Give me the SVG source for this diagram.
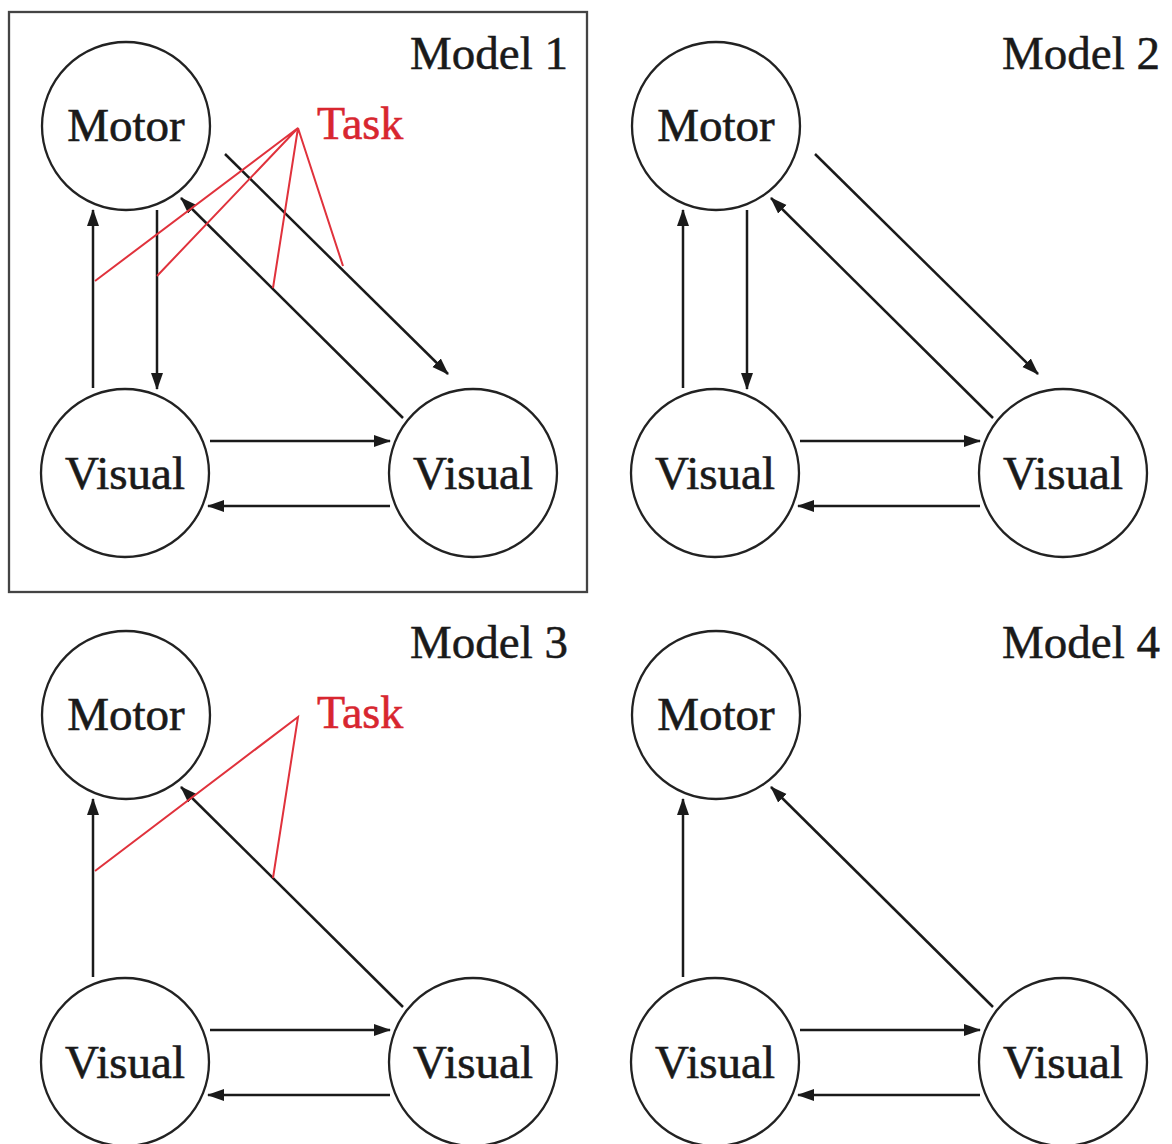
<svg xmlns="http://www.w3.org/2000/svg" width="1172" height="1144" viewBox="0 0 1172 1144">
<style>
.bg{fill:#ffffff}
.node circle{fill:#ffffff;stroke:#222;stroke-width:2.3}
.lbl{font-family:"Liberation Serif","Times New Roman",serif;font-size:47px;fill:#1a1a1a;stroke:#1a1a1a;stroke-width:0.6;text-anchor:middle}
.title{font-family:"Liberation Serif","Times New Roman",serif;font-size:47px;fill:#1a1a1a;stroke:#1a1a1a;stroke-width:0.5;text-anchor:end}
.task{font-family:"Liberation Serif","Times New Roman",serif;font-size:46px;fill:#d8262f;stroke:#d8262f;stroke-width:0.6}
.arr{stroke:#1a1a1a;stroke-width:2.5;fill:none;marker-end:url(#ah)}
.red{stroke:#e0323c;stroke-width:2;fill:none}
.box{fill:none;stroke:#444;stroke-width:2.3}
</style>
<defs>
<marker id="ah" markerUnits="userSpaceOnUse" markerWidth="18" markerHeight="14" viewBox="0 0 18 14" refX="16" refY="7" orient="auto">
<path d="M0,1 L17,7 L0,13 z" fill="#1a1a1a"/>
</marker>
</defs>
<rect class="bg" x="0" y="0" width="1172" height="1144"/>

<!-- Model 1 -->
<g id="model1">
<rect class="box" x="9" y="12" width="578" height="580"/>
<text class="title" x="568" y="69">Model 1</text>
<g id="m1-connectors">
<line class="arr" x1="93" y1="388" x2="93" y2="210"/>
<line class="arr" x1="157" y1="210" x2="157" y2="389"/>
<line class="arr" x1="225" y1="154" x2="448" y2="374"/>
<line class="arr" x1="403" y1="418" x2="181" y2="198"/>
<line class="arr" x1="210" y1="441" x2="390" y2="441"/>
<line class="arr" x1="390" y1="506" x2="208" y2="506"/>
<polyline class="red" points="95,281 298,128 157,276"/>
<polyline class="red" points="273,288 298,128 343,266"/>
</g>
<g id="m1-motor" class="node"><circle cx="126" cy="126" r="84"/><text class="lbl" x="126" y="141">Motor</text></g>
<g id="m1-visual-left" class="node"><circle cx="125" cy="473" r="84"/><text class="lbl" x="125" y="489">Visual</text></g>
<g id="m1-visual-right" class="node"><circle cx="473" cy="473" r="84"/><text class="lbl" x="473" y="489">Visual</text></g>
<g id="m1-task"><text class="task" x="317" y="139">Task</text></g>
</g>

<!-- Model 2 -->
<g id="model2" transform="translate(590,0)">
<text class="title" x="570" y="69">Model 2</text>
<g id="m2-connectors">
<line class="arr" x1="93" y1="388" x2="93" y2="210"/>
<line class="arr" x1="157" y1="210" x2="157" y2="389"/>
<line class="arr" x1="225" y1="154" x2="448" y2="374"/>
<line class="arr" x1="403" y1="418" x2="181" y2="198"/>
<line class="arr" x1="210" y1="441" x2="390" y2="441"/>
<line class="arr" x1="390" y1="506" x2="208" y2="506"/>
</g>
<g id="m2-motor" class="node"><circle cx="126" cy="126" r="84"/><text class="lbl" x="126" y="141">Motor</text></g>
<g id="m2-visual-left" class="node"><circle cx="125" cy="473" r="84"/><text class="lbl" x="125" y="489">Visual</text></g>
<g id="m2-visual-right" class="node"><circle cx="473" cy="473" r="84"/><text class="lbl" x="473" y="489">Visual</text></g>
</g>

<!-- Model 3 -->
<g id="model3" transform="translate(0,589)">
<text class="title" x="568" y="69">Model 3</text>
<g id="m3-connectors">
<line class="arr" x1="93" y1="388" x2="93" y2="210"/>
<line class="arr" x1="403" y1="418" x2="181" y2="198"/>
<line class="arr" x1="210" y1="441" x2="390" y2="441"/>
<line class="arr" x1="390" y1="506" x2="208" y2="506"/>
<polyline class="red" points="95,282 298,128 273,289"/>
</g>
<g id="m3-motor" class="node"><circle cx="126" cy="126" r="84"/><text class="lbl" x="126" y="141">Motor</text></g>
<g id="m3-visual-left" class="node"><circle cx="125" cy="473" r="84"/><text class="lbl" x="125" y="489">Visual</text></g>
<g id="m3-visual-right" class="node"><circle cx="473" cy="473" r="84"/><text class="lbl" x="473" y="489">Visual</text></g>
<g id="m3-task"><text class="task" x="317" y="139">Task</text></g>
</g>

<!-- Model 4 -->
<g id="model4" transform="translate(590,589)">
<text class="title" x="570" y="69">Model 4</text>
<g id="m4-connectors">
<line class="arr" x1="93" y1="388" x2="93" y2="210"/>
<line class="arr" x1="403" y1="418" x2="181" y2="198"/>
<line class="arr" x1="210" y1="441" x2="390" y2="441"/>
<line class="arr" x1="390" y1="506" x2="208" y2="506"/>
</g>
<g id="m4-motor" class="node"><circle cx="126" cy="126" r="84"/><text class="lbl" x="126" y="141">Motor</text></g>
<g id="m4-visual-left" class="node"><circle cx="125" cy="473" r="84"/><text class="lbl" x="125" y="489">Visual</text></g>
<g id="m4-visual-right" class="node"><circle cx="473" cy="473" r="84"/><text class="lbl" x="473" y="489">Visual</text></g>
</g>
</svg>
